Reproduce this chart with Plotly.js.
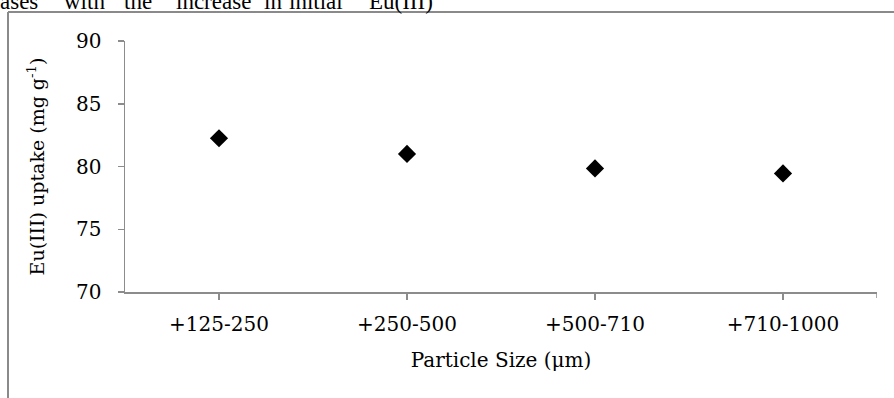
<!DOCTYPE html>
<html>
<head>
<meta charset="utf-8">
<script src="https://cdn.plot.ly/plotly-3.0.1.min.js"></script>
<style>html,body{margin:0;padding:0;background:#fff;}#chart{width:894px;height:398px;}</style>
</head>
<body>
<div id="chart"></div>
<script>
const categories = ['+125-250', '+250-500', '+500-710', '+710-1000'];
const uptake = [82.25, 81.0, 79.85, 79.45];
const yTicks = [70, 75, 80, 85, 90];
const docWords = ['ases', 'with', 'the', 'increase', 'in', 'initial', 'Eu(III)'];
const docWordPx = [-1, 63, 123, 175, 263, 288, 368];

const W = 894, H = 398;
const L = 125, R = 17, T = 41, B = 106;
const pw = W - L - R, ph = H - T - B;
const px2x = p => (p - L) / pw;
const py2y = p => (H - B - p) / ph;
const font = 'DejaVu Serif, serif';
const grey = '#8c8c8c';

const annotations = docWords.map((w, i) => ({
  text: w, xref: 'paper', yref: 'paper', x: px2x(docWordPx[i]), y: py2y(2),
  xanchor: 'left', yanchor: 'middle', showarrow: false, borderpad: 0,
  font: {family: 'Liberation Serif, serif', size: 23, color: '#000'}
}));

const shapes = [
  {type: 'line', xref: 'paper', yref: 'paper', x0: px2x(8), x1: px2x(900), y0: py2y(12), y1: py2y(12), line: {color: '#8a8a8a', width: 2}},
  {type: 'line', xref: 'paper', yref: 'paper', x0: px2x(8), x1: px2x(8), y0: py2y(12), y1: py2y(400), line: {color: '#8a8a8a', width: 2}},
  {type: 'line', xref: 'x', yref: 'paper', x0: categories.length - 0.5, x1: categories.length - 0.5, ysizemode: 'pixel', yanchor: 0, y0: 0, y1: -6, line: {color: grey, width: 1.5}}
];

Plotly.newPlot('chart', [{
  type: 'scatter', mode: 'markers', x: categories, y: uptake,
  marker: {symbol: 'diamond', size: 14, color: '#000'},
  cliponaxis: false, hoverinfo: 'skip'
}], {
  width: W, height: H,
  margin: {l: L, r: R, t: T, b: B, pad: 0},
  paper_bgcolor: '#fff', plot_bgcolor: '#fff',
  showlegend: false,
  font: {family: font, size: 20, color: '#000'},
  xaxis: {
    type: 'category', range: [-0.5, categories.length - 0.5],
    showline: true, linecolor: grey, linewidth: 1.5,
    ticks: 'outside', ticklen: 6, tickwidth: 1.5, tickcolor: grey,
    showgrid: false, zeroline: false,
    tickfont: {family: font, size: 20, color: '#000'},
    ticklabelstandoff: 7,
    title: {text: 'Particle Size (μm)', font: {family: font, size: 20, color: '#000'}, standoff: 18}
  },
  yaxis: {
    range: [70, 90], tickvals: yTicks, ticktext: yTicks.map(String),
    showline: true, linecolor: grey, linewidth: 1.5,
    ticks: 'outside', ticklen: 6, tickwidth: 1.5, tickcolor: grey,
    showgrid: false, zeroline: false,
    tickfont: {family: font, size: 20, color: '#000'},
    ticklabelstandoff: 12,
    title: {text: 'Eu(III) uptake (mg g<sup>-1</sup>)', font: {family: font, size: 19, color: '#000'}, standoff: 26}
  },
  annotations: annotations,
  shapes: shapes
}, {staticPlot: true});
</script>
</body>
</html>
